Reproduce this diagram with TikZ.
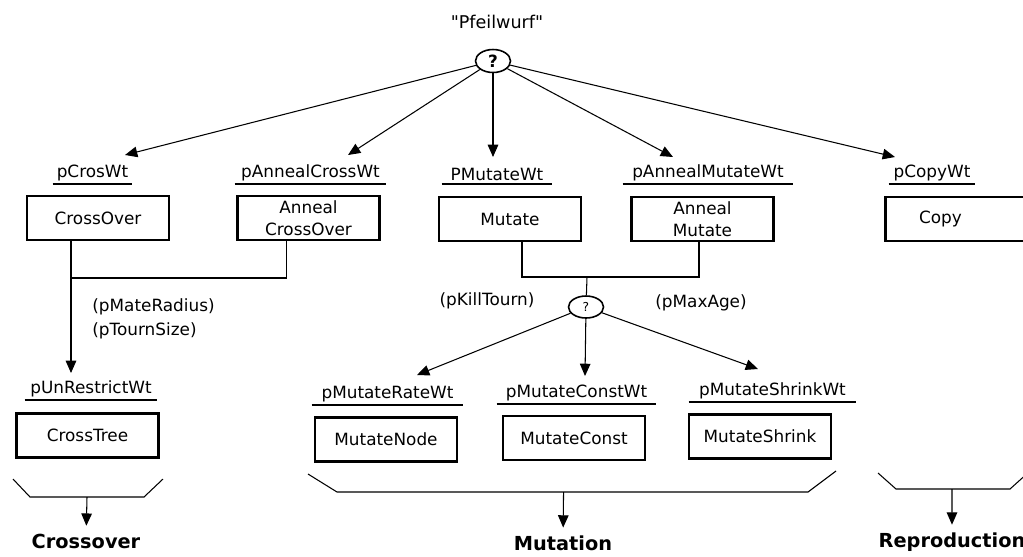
\documentclass[tikz,border=0pt]{standalone}
\usepackage{fontspec}
\setmainfont{DejaVu Sans}
\usetikzlibrary{
  shapes.geometric,
  arrows.meta,
  positioning,
  calc
}

\begin{document}
\begin{tikzpicture}[
    x=0.02cm, y=-0.02cm, % pixel grid of the sketch
    every node/.style={font=\fontsize{9.6}{11.5}\selectfont, align=center},
    opbox/.style={
      rectangle, draw, line width=1.2pt,
      minimum width=2.84cm, minimum height=0.88cm,
      inner sep=1pt
    },
    weight/.style={anchor=south, inner sep=1.5pt},
    choice/.style={
      ellipse, draw, line width=0.9pt,
      minimum width=0.7cm, minimum height=0.46cm,
      inner sep=0pt
    },
    genop/.style={font=\fontsize{11}{13}\selectfont\bfseries},
    arrow/.style={-{Triangle[length=7pt, width=6pt]}, semithick},
    link/.style={semithick},
  ]
  \useasboundingbox (0,0) rectangle (1023,556);

  % --- Top choice ---
  \node[font=\fontsize{10}{12}\selectfont] (title) at (497,22)
    {\textquotedbl Pfeilwurf\textquotedbl};
  \node[choice] (q1) at (493,61) {\textbf{?}};

  % --- Weights, first level ---
  \node[weight, minimum width=1.58cm] (wCros) at (92.5,184) {pCrosWt};
  \node[weight, minimum width=3.02cm] (wAnnCross) at (310.5,184) {pAnnealCrossWt};
  \node[weight, minimum width=2.2cm] (wMut) at (497,184) {PMutateWt};
  \node[weight, minimum width=3.4cm] (wAnnMut) at (708,184) {pAnnealMutateWt};
  \node[weight, minimum width=1.72cm] (wCopy) at (932,184) {pCopyWt};

  % --- Operators, first level ---
  \node[opbox] (bCross) at (98,218) {CrossOver};
  \node[opbox] (bAnnCross) at (308.5,218) {Anneal\\[1pt]CrossOver};
  \node[opbox] (bMut) at (510,219) {Mutate};
  \node[opbox] (bAnnMut) at (702.5,219) {Anneal\\[1pt]Mutate};
  \node[opbox, minimum width=3.3cm] (bCopy) at (968,219) {Copy\hspace*{1.1cm}};

  % --- Second level ---
  \node[choice, minimum height=0.44cm] (q2) at (586,307) {\scriptsize ?};
  \node[anchor=west, inner sep=0pt] (pMate) at (92,307) {(pMateRadius)};
  \node[anchor=west, inner sep=0pt] (pTourn) at (92,331) {(pTournSize)};
  \node (pKill) at (487,301) {(pKillTourn)};
  \node (pAge) at (701,303) {(pMaxAge)};

  \node[weight, minimum width=2.64cm] (wUnRestr) at (91,400) {pUnRestrictWt};
  \node[weight, minimum width=3.02cm] (wMutRate) at (387.5,405) {pMutateRateWt};
  \node[weight, minimum width=3.18cm] (wMutConst) at (576.5,404) {pMutateConstWt};
  \node[weight, minimum width=3.34cm] (wMutShrink) at (772.5,402) {pMutateShrinkWt};

  \node[opbox] (bTree) at (87.5,435.5) {CrossTree};
  \node[opbox] (bMutNode) at (386,439.5) {MutateNode};
  \node[opbox] (bMutConst) at (574,438) {MutateConst};
  \node[opbox] (bMutShrink) at (760,436.5) {MutateShrink};

  % --- Genetic operations ---
  \node[genop] (gCross) at (86,541) {Crossover};
  \node[genop] (gMut) at (563,543) {Mutation};
  \node[genop] (gRepro) at (952,542) {Reproduction};

  % --- Arrow tips and joins ---
  \coordinate (tCros) at (125,155);
  \coordinate (tAnnCross) at (348,155);
  \coordinate (tMut) at (493,157);
  \coordinate (tAnnMut) at (673,157);
  \coordinate (tCopy) at (895,157);
  \coordinate (tUnRestr) at (71,373);
  \coordinate (tMutRate) at (417,375);
  \coordinate (tMutConst) at (585,376);
  \coordinate (tMutShrink) at (758,369);
  \coordinate (cJoin) at (71,278);
  \coordinate (mJoin) at (587,277);

  % --- Underlines ---
  \foreach \w in {wCros,wAnnCross,wMut,wAnnMut,wCopy,
                  wUnRestr,wMutRate,wMutConst,wMutShrink}
    \draw[link] (\w.south west) -- (\w.south east);

  % --- Arrows ---
  \foreach \t in {tCros,tAnnCross,tMut,tAnnMut,tCopy}
    \draw[arrow] (q1) -- (\t);

  \draw[link] ($(bAnnCross.south)+(-22,0)$) |- (cJoin);
  \draw[arrow] (bCross.south -| cJoin) -- (tUnRestr);

  \draw[link] ($(bMut.south)+(12,0)$) |- (mJoin) -| ($(bAnnMut.south)+(-3.5,0)$);
  \draw[link] (mJoin) -- (q2);
  \foreach \t in {tMutRate,tMutConst,tMutShrink}
    \draw[arrow] (q2) -- (\t);

  % --- Braces ---
  \draw[link] (13,479) -- (30,497) -- coordinate[pos=0.5] (cBrace) (144,497) -- (163,479);
  \draw[link] (308,474) -- (337,492) -- coordinate[pos=0.481] (mBrace) (808,492) -- (836,471);
  \draw[link] (878,473) -- (896,489) -- coordinate[pos=0.491] (rBrace) (1010,489) -- (1030,471);
  \draw[arrow, shorten >=1pt] (cBrace) -- (gCross);
  \draw[arrow, shorten >=1pt] (mBrace) -- (gMut);
  \draw[arrow, shorten >=1pt] (rBrace) -- (gRepro);
\end{tikzpicture}
\end{document}
